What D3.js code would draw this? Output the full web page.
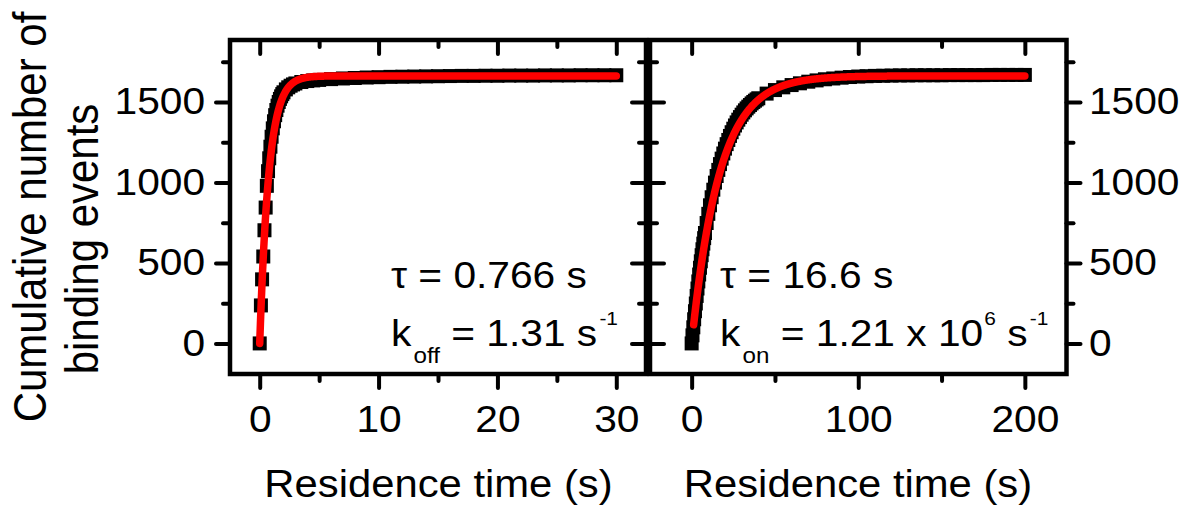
<!DOCTYPE html>
<html>
<head>
<meta charset="utf-8">
<script src="https://cdn.jsdelivr.net/npm/d3@7"></script>
<style>
  html, body { margin: 0; padding: 0; background: #fff; }
  svg { display: block; font-family: Arial, "Liberation Sans", sans-serif; }
  text { white-space: pre; }
</style>
</head>
<body>
<svg id="chart" width="1188" height="510"></svg>
<script>
// Dissociation panel: residence time (s) vs cumulative number of binding events
const offTime = [0, 0.1, 0.2, 0.3, 0.4, 0.5, 0.6, 0.7, 0.8, 0.9, 1.0, 1.1, 1.2, 1.3, 1.4, 1.5, 1.6, 1.7, 1.8, 1.9, 2.0,
  2.2, 2.4, 2.6, 2.8, 3.0, 3.5, 4, 4.5, 5, 6, 7, 8, 9, 10, 11, 12, 13, 14, 15, 16, 17, 18, 19, 20,
  21, 22, 23, 24, 25, 26, 27, 28, 29, 30];
const offCount = [0, 236, 398, 540, 703, 844, 979, 1070, 1150, 1222, 1284, 1336, 1380, 1418, 1450, 1477, 1500, 1519, 1535, 1549, 1560,
  1578, 1591, 1601, 1609, 1615, 1624, 1630, 1634, 1637, 1642, 1646, 1649, 1652, 1654, 1656, 1657, 1658, 1659, 1660, 1661, 1662, 1662, 1663, 1663,
  1664, 1664, 1664, 1665, 1665, 1665, 1666, 1666, 1666, 1666];

// Association panel: waiting time (s) vs cumulative number of binding events
const onTime = [0, 0.5, 1, 1.5, 2, 2.5, 3, 3.5, 4, 4.5, 5, 5.5, 6, 6.5, 7, 7.5, 8,
  9, 10, 11, 12, 13, 14, 15, 16, 17, 18, 19, 20,
  21, 22, 23, 24, 25, 26, 27, 28, 29, 30, 31, 32, 33, 34, 35, 36, 37, 38, 39, 40,
  45, 50, 55, 60, 65, 70, 75, 80, 85, 90, 95, 100, 105, 110, 115, 120,
  125, 130, 135, 140, 145, 150, 155, 160, 165, 170, 175, 180, 185, 190, 195, 200];
const onCount = [0, 50, 100, 150, 200, 248, 295, 341, 385, 428, 470, 510, 548, 585, 620, 654, 686,
  748, 805, 858, 908, 955, 999, 1040, 1078, 1114, 1148, 1180, 1210,
  1238, 1264, 1289, 1312, 1334, 1354, 1373, 1390, 1406, 1421, 1435, 1448, 1460, 1471, 1481, 1491, 1500, 1508, 1516, 1523,
  1552, 1574, 1591, 1605, 1616, 1626, 1634, 1641, 1646, 1651, 1655, 1658, 1660, 1662, 1663, 1664,
  1665, 1665, 1666, 1666, 1666, 1666, 1667, 1667, 1667, 1667, 1667, 1668, 1668, 1668, 1668, 1668];

// Single-exponential fits N(t) = Nmax (1 - exp(-t / tau))
const tauOff = 0.766;
const tauOn = 16.6;
const fitPlateau = 1662;
const fitOffRange = [0, 30];
const fitOnRange = [1.2, 200];

// Axis ticks
const offMajor = [0, 10, 20, 30], offMinor = [5, 15, 25];
const onMajor = [0, 100, 200], onMinor = [50, 150];
const countMajor = [0, 500, 1000, 1500], countMinor = [250, 750, 1250, 1750];

const svg = d3.select("#chart");
const W = 4.5;          // frame stroke
const TICK = 4;         // tick stroke
const MAJ = 14, MIN = 7;
const STRETCH = 1.1;    // horizontal widening of all lettering
const tickFont = 37, titleFont = 38, yTitleFont = 42, noteFont = 37, subFont = 22, supFont = 19;

const frameTop = 40, frameBottom = 374;
const y = d3.scaleLinear().domain([-190, 1885]).range([frameBottom, frameTop]);
const xOff = d3.scaleLinear().domain([-2.5, 32.5]).range([230, 646]);
const xOn = d3.scaleLinear().domain([-25, 225]).range([650, 1066.5]);

const widen = ax => `translate(${ax},0) scale(${STRETCH},1) translate(${-ax},0)`;

function styleAxis(g) {
  g.select(".domain").remove();
  g.selectAll(".tick line").attr("stroke", "#000").attr("stroke-width", TICK).attr("stroke-linecap", "round");
  g.selectAll(".tick text")
    .attr("font-size", tickFont)
    .attr("font-family", 'Arial, "Liberation Sans", sans-serif')
    .attr("fill", "#000")
    .attr("transform", function () { return widen(+this.getAttribute("x") || 0); });
}

function panel(x, times, counts, major, minor, tau, fitRange, side) {
  const [x0, x1] = x.range();
  const g = svg.append("g");

  // data squares
  const pts = times.map((t, i) => [t, counts[i]]);
  g.append("g").selectAll("rect").data(pts).join("rect")
    .attr("x", d => x(d[0]) - 7).attr("y", d => y(d[1]) - 7)
    .attr("width", 14).attr("height", 14).attr("fill", "#000");

  // fitted curve
  const step = (fitRange[1] - fitRange[0]) / 1500;
  const fit = d3.range(fitRange[0], fitRange[1] + step / 2, step).map(t => [t, fitPlateau * (1 - Math.exp(-t / tau))]);
  g.append("path").datum(fit)
    .attr("d", d3.line().x(d => x(d[0])).y(d => y(d[1])))
    .attr("fill", "none").attr("stroke", "#ff0000").attr("stroke-width", 7.5)
    .attr("stroke-linecap", "round").attr("stroke-linejoin", "round");

  // frame
  g.append("rect").attr("x", x0).attr("y", frameTop).attr("width", x1 - x0).attr("height", frameBottom - frameTop)
    .attr("fill", "none").attr("stroke", "#000").attr("stroke-width", W);

  // bottom axis (outward, labelled) and top axis (inward)
  g.append("g").attr("transform", `translate(0,${frameBottom})`)
    .call(d3.axisBottom(x).tickValues(major).tickSize(MAJ).tickPadding(18).tickFormat(d3.format("d")))
    .call(styleAxis);
  g.append("g").attr("transform", `translate(0,${frameBottom})`)
    .call(d3.axisBottom(x).tickValues(minor).tickSize(MIN).tickFormat(""))
    .call(styleAxis);
  g.append("g").attr("transform", `translate(0,${frameTop})`)
    .call(d3.axisBottom(x).tickValues(major).tickSize(MAJ).tickFormat(""))
    .call(styleAxis);
  g.append("g").attr("transform", `translate(0,${frameTop})`)
    .call(d3.axisBottom(x).tickValues(minor).tickSize(MIN).tickFormat(""))
    .call(styleAxis);

  // vertical axes: labelled on the outer side, plain inward ticks at the shared edge
  const outer = side === "left" ? x0 : x1;
  const inner = side === "left" ? x1 : x0;
  const vAxis = side === "left" ? d3.axisLeft : d3.axisRight;
  g.append("g").attr("transform", `translate(${outer},0)`)
    .call(vAxis(y).tickValues(countMajor).tickSize(MAJ).tickPadding(side === "left" ? 11 : 8.5).tickFormat(d3.format("d")))
    .call(styleAxis);
  g.append("g").attr("transform", `translate(${outer},0)`)
    .call(vAxis(y).tickValues(countMinor).tickSize(MIN).tickFormat(""))
    .call(styleAxis);
  g.append("g").attr("transform", `translate(${inner},0)`)
    .call(vAxis(y).tickValues(countMajor).tickSize(MAJ).tickFormat(""))
    .call(styleAxis);
  g.append("g").attr("transform", `translate(${inner},0)`)
    .call(vAxis(y).tickValues(countMinor).tickSize(MIN).tickFormat(""))
    .call(styleAxis);
}

panel(xOff, offTime, offCount, offMajor, offMinor, tauOff, fitOffRange, "left");
panel(xOn, onTime, onCount, onMajor, onMinor, tauOn, fitOnRange, "right");

// axis titles
[438.5, 858].forEach(cx => {
  svg.append("text").attr("x", cx).attr("y", 497).attr("text-anchor", "middle")
    .attr("transform", widen(cx)).attr("font-size", titleFont).text("Residence time (s)");
});
svg.append("text").attr("transform", `translate(46,217) scale(${STRETCH},1) rotate(-90)`).attr("text-anchor", "middle")
  .attr("font-size", yTitleFont).text("Cumulative number of");
svg.append("text").attr("transform", `translate(98,239) scale(${STRETCH},1) rotate(-90)`).attr("text-anchor", "middle")
  .attr("font-size", yTitleFont).text("binding events");

// fit annotations
function note(x, yBase, parts) {
  const t = svg.append("text").attr("x", x).attr("y", yBase).attr("transform", widen(x)).attr("font-size", noteFont);
  parts.forEach(p => {
    const s = t.append("tspan").text(p.text);
    if (p.size) s.attr("font-size", p.size);
    if (p.dy) s.attr("dy", p.dy);
    if (p.dx) s.attr("dx", p.dx);
  });
}
note(391, 288, [{ text: "\u03c4 = 0.766 s" }]);
note(391, 346, [
  { text: "k" },
  { text: "off", size: subFont, dy: 17, dx: 2 },
  { text: " = 1.31 s", dy: -17 },
  { text: "-1", size: supFont, dy: -21, dx: 2 }
]);
note(720, 288, [{ text: "\u03c4 = 16.6 s" }]);
note(720, 346, [
  { text: "k" },
  { text: "on", size: subFont, dy: 17, dx: 2 },
  { text: " = 1.21 x 10", dy: -17 },
  { text: "6", size: supFont, dy: -21, dx: 1 },
  { text: " s", dy: 21 },
  { text: "-1", size: supFont, dy: -21, dx: 2 }
]);
</script>
</body>
</html>
